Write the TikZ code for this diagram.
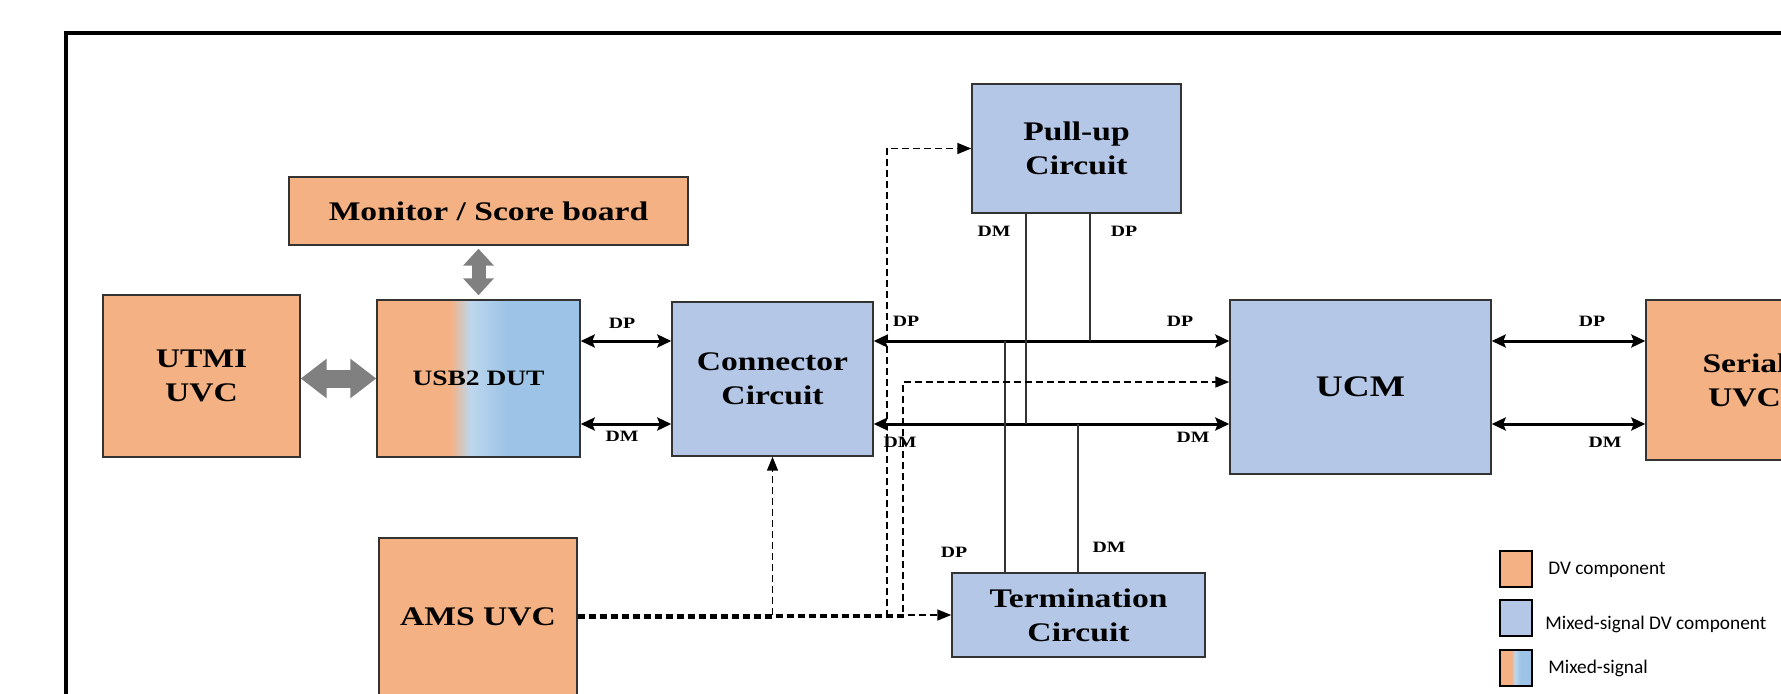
\documentclass[tikz,border=0pt]{standalone}
\usepackage{fontspec}
\newfontfamily\boxfont{Liberation Serif}[FakeStretch=1.25]
\newfontfamily\legendfont{Carlito}
\usetikzlibrary{arrows.meta}
\definecolor{dvorange}{HTML}{F4B183}
\definecolor{msblue}{HTML}{B4C7E7}
\definecolor{gradlight}{HTML}{BDD7EE}
\definecolor{gradblue}{HTML}{9DC3E6}
\definecolor{fatgrey}{HTML}{808080}
\pgfdeclarehorizontalshading{mixshade}{100bp}{color(0bp)=(dvorange); color(43bp)=(dvorange); color(48bp)=(gradlight); color(57bp)=(gradblue); color(100bp)=(gradblue)}

\begin{document}
\begin{tikzpicture}[
    x=0.02cm, y=-0.02cm,
    box/.style={rectangle, draw=black!80, line width=0.03cm, inner sep=0pt, align=center,
        font=\boxfont\bfseries\fontsize{15.3}{19.3}\selectfont},
    dv/.style={box, fill=dvorange},
    ms/.style={box, fill=msblue},
    mix/.style={box, shade, shading=mixshade},
    sig/.style={font=\boxfont\bfseries\fontsize{9}{10}\selectfont, inner sep=0pt},
    bus/.style={{Stealth[length=0.28cm,width=0.26cm,inset=0.05cm]}-{Stealth[length=0.28cm,width=0.26cm,inset=0.05cm]}, line width=0.06cm},
    wire/.style={line width=0.03cm, black!80},
    ctrl/.style={-{Triangle[length=0.28cm,width=0.22cm]}, line width=0.03cm, dash pattern=on 0.14cm off 0.08cm},
    keybox/.style={rectangle, draw=black, line width=0.045cm, minimum width=0.64cm, minimum height=0.72cm, inner sep=0pt},
    keytext/.style={font=\legendfont\fontsize{11}{13}\selectfont, anchor=west, inner sep=0pt},
]
\useasboundingbox (0,0) rectangle (1781,693);
\clip (0,0) rectangle (1781,693);

% Rahmen
\draw[line width=0.08cm] (65.5,32.5) rectangle (1900,800);

% Bloecke
\node[dv, minimum width=7.98cm, minimum height=1.36cm] (monitor) at (488.5,211) {Monitor / Score board};
\node[dv, minimum width=3.94cm, minimum height=3.24cm] (utmi) at (201.5,376) {UTMI\\UVC};
\node[mix, minimum width=4.06cm, minimum height=3.14cm,
    font=\boxfont\bfseries\fontsize{12.5}{15}\selectfont] (dut) at (478.5,378.5) {USB2 DUT};
\node[ms, minimum width=4.02cm, minimum height=3.08cm] (conn) at (772.5,379) {Connector\\Circuit};
\node[ms, minimum width=4.18cm, minimum height=2.58cm] (pullup) at (1076.5,148.5) {Pull-up\\Circuit};
\node[ms, minimum width=5.22cm, minimum height=3.48cm,
    font=\boxfont\bfseries\fontsize{17}{20}\selectfont] (ucm) at (1360.5,387) {UCM};
\node[dv, minimum width=3.94cm, minimum height=3.2cm] (serial) at (1744.5,380) {Serial\\UVC};
\node[dv, minimum width=3.96cm, minimum height=3.16cm] (ams) at (478,617) {AMS UVC};
\node[ms, minimum width=5.06cm, minimum height=1.68cm] (term) at (1078.5,615) {Termination\\Circuit};

% Graue Pfeile
\draw[fatgrey, line width=0.36cm, {Triangle[length=0.52cm,width=0.76cm]}-{Triangle[length=0.52cm,width=0.76cm]}]
    (dut.west -| utmi.east) -- (dut.west);
\draw[fatgrey, line width=0.28cm, {Triangle[length=0.34cm,width=0.6cm]}-{Triangle[length=0.34cm,width=0.6cm]},
    shorten <=0.06cm, shorten >=0.08cm] (monitor.south -| dut.north) -- (dut.north);

% DP / DM Leitungen
\coordinate (dpy) at (0,341);
\coordinate (dmy) at (0,424);
\draw[bus] (dut.east |- dpy) -- (conn.west |- dpy);
\draw[bus] (dut.east |- dmy) -- (conn.west |- dmy);
\draw[bus] (conn.east |- dpy) -- (ucm.west |- dpy);
\draw[bus] (conn.east |- dmy) -- (ucm.west |- dmy);
\draw[bus] (ucm.east |- dpy) -- (serial.west |- dpy);
\draw[bus] (ucm.east |- dmy) -- (serial.west |- dmy);

% Abgriffe Pull-up / Termination
\coordinate (pudm) at (1026,424);
\coordinate (pudp) at (1090,341);
\coordinate (tedp) at (1005,341);
\coordinate (tedm) at (1078,424);
\draw[wire] (pullup.south -| pudm) -- (pudm);
\draw[wire] (pullup.south -| pudp) -- (pudp);
\draw[wire] (tedp) -- (term.north -| tedp);
\draw[wire] (tedm) -- (term.north -| tedm);

% Steuerung AMS
\coordinate (cpu) at (887,0);
\coordinate (cucm) at (903,382);
\draw[ctrl] ([yshift=0.04cm]ams.east) -- ([yshift=0.04cm]ams.east -| term.west);
\draw[ctrl] ([yshift=-0.02cm]ams.east) -| (conn.south);
\draw[ctrl] ([yshift=0.02cm]ams.east) -| (cpu |- pullup.west) -- (pullup.west);
\draw[ctrl] (ams.east) -| (cucm) -- (ucm.west |- cucm);

% Signalnamen
\node[sig] (dpdut) at (622,323) {DP};
\node[sig] (dmdut) at (622,436) {DM};
\node[sig] (dpconn) at (906,321) {DP};
\node[sig] (dpucm) at (1180,321) {DP};
\node[sig] (dmconn) at (900,442) {DM};
\node[sig] (dmucm) at (1193,437) {DM};
\node[sig] (dpser) at (1592,321) {DP};
\node[sig] (dmser) at (1605,442) {DM};
\node[sig] (dmpu) at (994,231) {DM};
\node[sig] (dppu) at (1124,231) {DP};
\node[sig] (dpterm) at (954,552) {DP};
\node[sig] (dmterm) at (1109,547) {DM};

% Legende
\node[keybox, fill=dvorange] (keydv) at (1516,569) {};
\node[keybox, fill=msblue] (keyms) at (1516,618) {};
\node[keybox, shade, shading=mixshade] (keymix) at (1516,668) {};
\node[keytext] (txtdv) at (1548,570) {DV component};
\node[keytext] (txtms) at (1545,624) {Mixed-signal DV component};
\node[keytext] (txtmix) at (1548,668) {Mixed-signal};

\end{tikzpicture}
\end{document}
